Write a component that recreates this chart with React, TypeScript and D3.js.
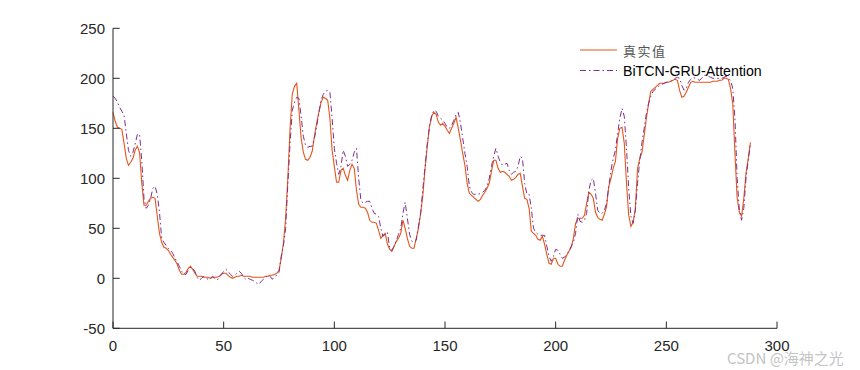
import React from "react";
import * as d3 from "d3";

const xTicks = [0, 50, 100, 150, 200, 250, 300];
const yTicks = [-50, 0, 50, 100, 150, 200, 250];
const seriesNames = ["真实值", "BiTCN-GRU-Attention"];

// values at x = 0, 1, 2, ..., 288
const actual = [
  166,
  157, 151, 150, 149, 135, 120, 113, 116, 120, 128,
  132, 126, 95, 73, 73, 77, 80, 81, 80, 62,
  45, 36, 31, 30, 28, 24, 21, 18, 14, 8,
  4, 4, 6, 10, 12, 9, 5, 2, 2, 2,
  1, 1, 1, 0, 1, 1, 1, 2, 4, 5,
  5, 3, 1, 0, 1, 2, 2, 3, 2, 2,
  2, 2, 1, 1, 1, 1, 1, 1, 2, 2,
  3, 3, 4, 5, 8, 20, 35, 60, 100, 150,
  184, 192, 195, 168, 140, 126, 119, 118, 121, 127,
  142, 155, 166, 176, 181, 180, 178, 160, 128, 112,
  96, 96, 108, 110, 103, 98, 108, 114, 110, 88,
  74, 71, 71, 70, 66, 58, 56, 56, 55, 48,
  40, 43, 45, 34, 29, 27, 32, 37, 40, 45,
  58, 50, 40, 32, 30, 30, 40, 50, 65, 83,
  110, 132, 152, 162, 166, 164, 156, 153, 155, 152,
  148, 145, 150, 155, 161, 150, 138, 125, 113, 95,
  85, 83, 81, 79, 77, 79, 83, 86, 90, 95,
  107, 118, 118, 110, 106, 107, 106, 104, 102, 98,
  99, 101, 104, 105, 92, 80, 79, 70, 47, 45,
  43, 39, 38, 42, 34, 24, 15, 14, 20, 20,
  14, 12, 12, 18, 23, 27, 31, 40, 55, 60,
  60, 60, 63, 75, 86, 84, 80, 66, 61, 59,
  58, 64, 72, 92, 100, 110, 117, 140, 150, 151,
  135, 95, 63, 52, 56, 70, 110, 120, 126, 143,
  160, 175, 187, 189, 191, 193, 195, 195, 195, 196,
  196, 197, 198, 199, 198, 188, 181, 182, 186, 191,
  196, 197, 196, 196, 196, 196, 196, 196, 196, 196,
  197, 197, 197, 198, 198, 200, 200, 199, 190, 175,
  125, 80, 66, 62, 80, 105, 120, 136,
];

const predicted = [
  182,
  180, 176, 171, 167, 163, 145, 128, 122, 126, 134,
  144, 144, 118, 80, 70, 73, 80, 90, 92, 84,
  66, 40, 36, 33, 30, 28, 25, 20, 16, 12,
  7, 4, 4, 8, 11, 10, 7, 1, -2, 0,
  2, 0, -1, 0, 2, 0, -2, 1, 4, 7,
  9, 7, 4, 2, 3, 5, 7, 5, 1, -1,
  0, -1, -2, -3, -5, -6, -3, -1, 1, 3,
  2, -1, 2, 3, 6, 22, 33, 50, 95, 135,
  168, 176, 181, 180, 162, 142, 133, 131, 132, 132,
  140, 152, 165, 178, 184, 187, 188, 186, 160, 130,
  115, 104, 112, 128, 122, 112, 114, 118, 126, 130,
  100, 78, 75, 76, 77, 77, 70, 65, 64, 62,
  50, 42, 44, 46, 30, 28, 32, 38, 44, 50,
  65, 76, 60, 44, 37, 36, 38, 52, 65, 90,
  112, 135, 152, 163, 168, 167, 162, 160, 158, 155,
  151, 150, 153, 158, 164, 166, 155, 140, 125, 112,
  92, 86, 84, 84, 84, 85, 86, 88, 92, 100,
  112, 122, 130, 122, 116, 113, 114, 115, 108, 104,
  106, 107, 112, 122, 120, 95, 84, 84, 70, 50,
  46, 44, 43, 43, 43, 32, 22, 17, 22, 29,
  28, 24, 20, 21, 24, 27, 32, 36, 45, 64,
  57, 56, 58, 65, 88, 98, 100, 85, 68, 65,
  65, 68, 75, 92, 108, 120, 128, 145, 160, 170,
  162, 130, 90, 62, 55, 68, 95, 118, 136, 150,
  165, 175, 182, 187, 189, 191, 193, 194, 195, 196,
  196, 197, 198, 200, 201, 200, 193, 188, 190, 196,
  199, 201, 200, 199, 198, 200, 203, 203, 202, 201,
  200, 200, 200, 200, 200, 201, 202, 200, 198, 190,
  160, 100, 68, 58, 70, 100, 118, 134,
];

const W = 860;
const H = 370;
const M = { left: 113, right: 777, top: 28.3, bottom: 328.3 };
const AXIS = "#262626";
const ORANGE = "#E4561C";
const PURPLE = "#7E2F8E";
const FONT = "'Liberation Sans', Arial, Helvetica, sans-serif";

export default function App() {
  const x = d3.scaleLinear().domain([0, 300]).range([M.left, M.right]);
  const y = d3.scaleLinear().domain([-50, 250]).range([M.bottom, M.top]);
  const line = d3
    .line<number>()
    .x((_, i) => x(i))
    .y((d) => y(d));

  const tickLen = 6.7;

  return (
    <svg
      width={W}
      height={H}
      style={{ position: "absolute", left: 0, top: 0, background: "#fff" }}
    >
      <path d={line(actual) || ""} fill="none" stroke={ORANGE} strokeWidth={1.1} />
      <path
        d={line(predicted) || ""}
        fill="none"
        stroke={PURPLE}
        strokeWidth={1}
        strokeDasharray="6,3,1.5,3"
      />

      {/* axes */}
      <line x1={M.left} x2={M.left} y1={M.top} y2={M.bottom} stroke={AXIS} strokeWidth={1} />
      <line x1={M.left} x2={M.right} y1={M.bottom} y2={M.bottom} stroke={AXIS} strokeWidth={1} />
      {yTicks.map((t) => (
        <g key={"y" + t}>
          <line x1={M.left} x2={M.left + tickLen} y1={y(t)} y2={y(t)} stroke={AXIS} />
          <text
            x={M.left - 8}
            y={y(t)}
            textAnchor="end"
            dominantBaseline="central"
            fontFamily={FONT}
            fontSize={15}
            fill={AXIS}
          >
            {t}
          </text>
        </g>
      ))}
      {xTicks.map((t) => (
        <g key={"x" + t}>
          <line x1={x(t)} x2={x(t)} y1={M.bottom} y2={M.bottom - tickLen} stroke={AXIS} />
          <text
            x={x(t)}
            y={M.bottom + 17.5}
            textAnchor="middle"
            dominantBaseline="central"
            fontFamily={FONT}
            fontSize={15}
            fill={AXIS}
          >
            {t}
          </text>
        </g>
      ))}

      {/* legend */}
      <line x1={580} x2={617} y1={50} y2={50} stroke={ORANGE} strokeWidth={1.1} />
      <text
        x={623}
        y={50}
        dominantBaseline="central"
        fontFamily="'Noto Sans CJK SC', sans-serif"
        fontSize={13}
        letterSpacing={1.5}
        fill="#555"
      >
        {seriesNames[0]}
      </text>
      <line
        x1={580}
        x2={617}
        y1={70.5}
        y2={70.5}
        stroke={PURPLE}
        strokeWidth={1}
        strokeDasharray="6,3,1.5,3"
      />
      <text
        x={623}
        y={71}
        dominantBaseline="central"
        fontFamily={FONT}
        fontSize={14.2}
        fill="#000"
      >
        {seriesNames[1]}
      </text>

      {/* watermark */}
      <text
        x={727}
        y={357}
        dominantBaseline="central"
        fontFamily="'Noto Sans CJK SC', 'Liberation Sans', sans-serif"
        fontSize={15}
        fill="#c4c4c4"
      >
        CSDN @海神之光
      </text>
    </svg>
  );
}
